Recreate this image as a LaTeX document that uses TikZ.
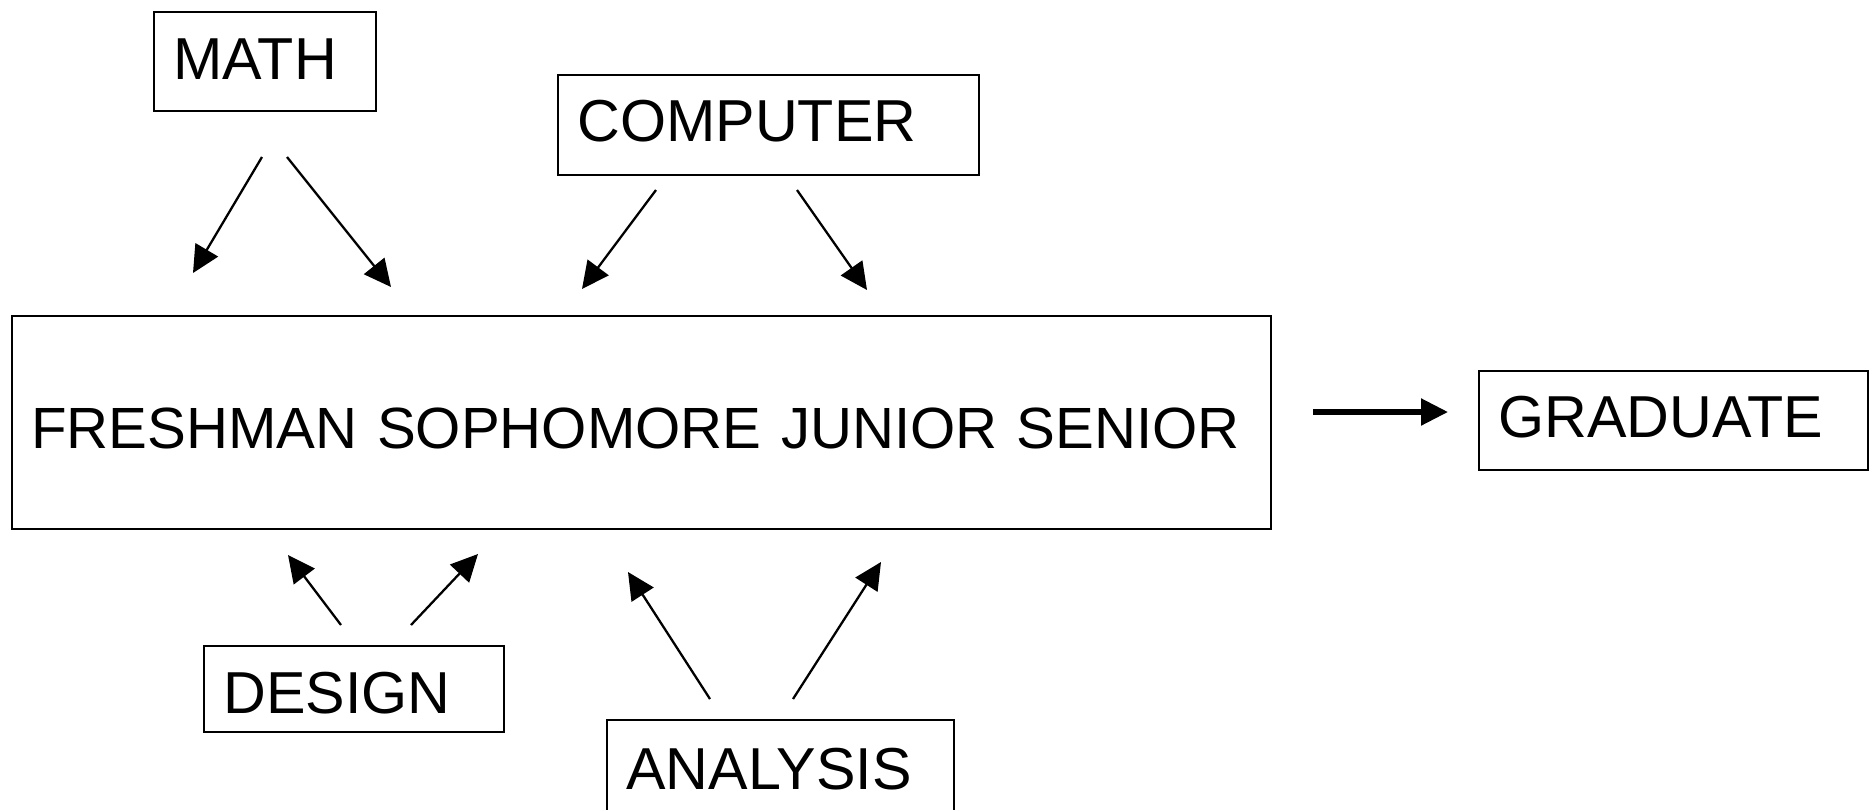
\documentclass[tikz,border=0pt]{standalone}
\usepackage{fontspec}
\setmainfont{Liberation Sans}
\usetikzlibrary{arrows.meta}

\tikzset{
  box/.style={draw, line width=1.1pt, anchor=north west, inner xsep=0.39cm,
    inner ysep=0pt, align=left, text depth=0pt, text height=24pt,
    font=\fontsize{33.7pt}{40pt}\selectfont},
  link/.style={line width=1.3pt, -{Triangle[length=0.54cm,width=0.52cm]}},
  mainlink/.style={line width=3pt, -{Triangle[length=0.54cm,width=0.52cm]}}
}

\begin{document}
\begin{tikzpicture}[x=0.02cm, y=-0.02cm]
\useasboundingbox (0,0) rectangle (1873,809);

% course boxes
\node[box, minimum width=4.44cm, minimum height=1.98cm, text width=3.66cm,
      text depth=4pt] (math) at (153,11) {MATH};
\node[box, minimum width=8.42cm, minimum height=2.0cm, text width=7.64cm,
      text depth=5pt] (computer) at (557,74) {COMPUTER};
\node[box, minimum width=25.18cm, minimum height=4.26cm, text width=24.40cm,
      font=\fontsize{33.1pt}{40pt}\selectfont,
      text height=29.9pt] (years) at (11,315) {FRESHMAN SOPHOMORE JUNIOR SENIOR};
\node[box, minimum width=7.78cm, minimum height=1.98cm, text width=7.00cm,
      text depth=5pt] (graduate) at (1478,370) {GRADUATE};
\node[box, minimum width=6.0cm, minimum height=1.72cm, text width=5.22cm,
      text height=28pt] (design) at (203,645) {DESIGN};
\node[box, minimum width=6.94cm, minimum height=1.94cm, text width=6.16cm]
      (analysis) at (606,719) {ANALYSIS};

% arrow end points
\coordinate (m1s) at (262,157); \coordinate (m1e) at (193,273);
\coordinate (m2s) at (287,157); \coordinate (m2e) at (391,287);
\coordinate (c1s) at (656,190); \coordinate (c1e) at (582,289);
\coordinate (c2s) at (797,190); \coordinate (c2e) at (867,290);
\coordinate (d1s) at (341,625); \coordinate (d1e) at (288,555);
\coordinate (d2s) at (411,625); \coordinate (d2e) at (478,554);
\coordinate (a1s) at (710,699); \coordinate (a1e) at (628,572);
\coordinate (a2s) at (793,699); \coordinate (a2e) at (881,562);
\coordinate (gs)  at (1313,412); \coordinate (ge) at (1448,412);

% arrows
\draw[link] (m1s) -- (m1e);
\draw[link] (m2s) -- (m2e);
\draw[link] (c1s) -- (c1e);
\draw[link] (c2s) -- (c2e);
\draw[link] (d1s) -- (d1e);
\draw[link] (d2s) -- (d2e);
\draw[link] (a1s) -- (a1e);
\draw[link] (a2s) -- (a2e);
\draw[mainlink] (gs) -- (ge);
\end{tikzpicture}
\end{document}
